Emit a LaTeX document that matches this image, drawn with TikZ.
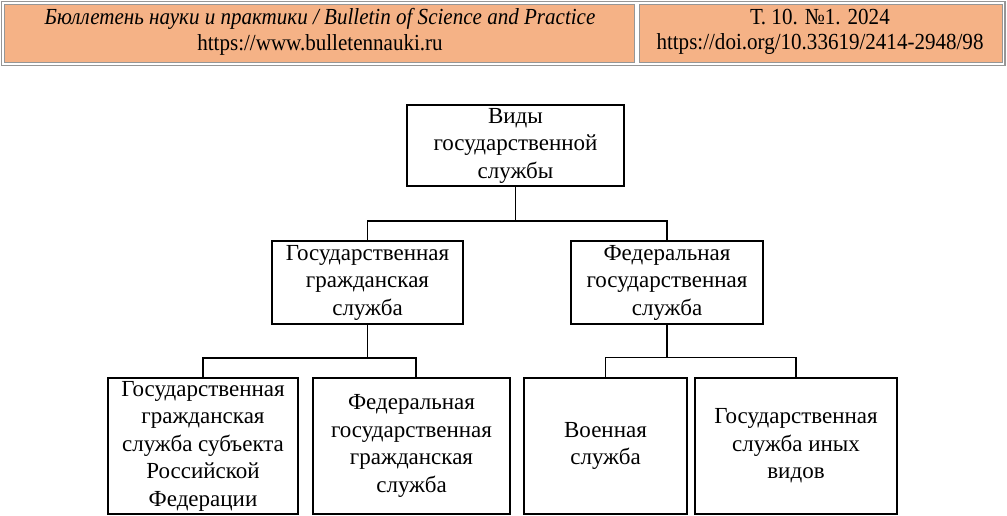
\documentclass[tikz,border=0pt]{standalone}
\usepackage{fontspec}
\setmainfont{Liberation Serif}
\definecolor{hdr}{RGB}{245,178,134}
\definecolor{hgrey}{RGB}{150,150,150}
\newcommand{\hsq}[1]{\scalebox{0.915}[1]{#1}}
\tikzset{
  box/.style={draw, line width=1.5pt, align=center, inner sep=0pt,
    font=\fontsize{23}{27.5}\selectfont},
  conn/.style={line width=1.7pt},
  hcell/.style={fill=hdr, draw=hgrey, line width=1pt},
  htext/.style={align=center, inner sep=0pt, font=\fontsize{23}{25.5}\selectfont}
}
\begin{document}
\begin{tikzpicture}[x=1pt,y=-1pt]
\useasboundingbox (0,0) rectangle (1007,515);
% header
\draw[hgrey, line width=1.5pt] (1.5,1.5) rectangle (1005,65.5);
\draw[hcell] (4.5,4.5) rectangle (634.5,62);
\draw[hcell] (639.5,4.5) rectangle (1002,62);
\node[htext] (hl) at (320,32) {\hsq{\textit{Бюллетень науки и практики / Bulletin of Science and Practice}}\\\hsq{https://www.bulletennauki.ru}};
\node[htext] (hr) at (820,32) {\hsq{Т. 10. №1. 2024}\\\hsq{https://doi.org/10.33619/2414-2948/98}};
% boxes
\node[box, minimum width=217pt, minimum height=81pt] (top) at (515.5,145.5) {Виды\\государственной\\службы};
\node[box, minimum width=191pt, minimum height=83pt] (b2) at (367.5,282.5) {Государственная\\гражданская\\служба};
\node[box, minimum width=192pt, minimum height=83pt] (b3) at (667,282.5) {Федеральная\\государственная\\служба};
\node[box, minimum width=190pt, minimum height=136pt] (b4) at (203,446) {Государственная\\гражданская\\служба субъекта\\Российской\\Федерации};
\node[box, minimum width=197pt, minimum height=136pt] (b5) at (411.5,446) {Федеральная\\государственная\\гражданская\\служба};
\node[box, minimum width=163pt, minimum height=136pt] (b6) at (605.5,446) {Военная\\служба};
\node[box, minimum width=202pt, minimum height=136pt] (b7) at (796,446) {Государственная\\служба иных\\видов};
% connectors
\coordinate (j1) at (515.5,221);
\coordinate (j2) at (367.5,358);
\coordinate (j3) at (667,357.5);
\coordinate (c5) at (416,378);
\draw[conn] (top.south) -- (j1);
\draw[conn] (b2.north) |- (j1) -| (b3.north);
\draw[conn] (b2.south) -- (j2);
\draw[conn] (b4.north) |- (j2) -| (c5);
\draw[conn] (b3.south) -- (j3);
\draw[conn] (b6.north) |- (j3) -| (b7.north);
\end{tikzpicture}
\end{document}
